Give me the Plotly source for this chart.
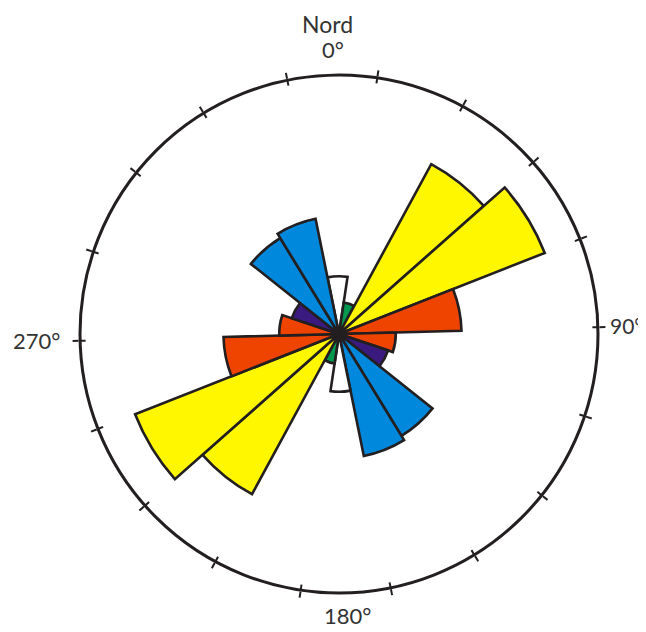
import plotly.graph_objects as go

# Rose diagram data: bin centres (degrees, 20° bins) and bar lengths
bin_centres = [0, 20, 40, 60, 80, 100, 120, 140, 160,
               180, 200, 220, 240, 260, 280, 300, 320, 340]
lengths = [5.8, 3.2, 19.4, 22.2, 12.3, 5.7, 5.2, 12.0, 12.5,
           5.8, 3.0, 18.3, 22.0, 11.6, 6.0, 5.0, 11.3, 11.8]
bin_width = 20
tick_angles = list(range(10, 360, 20))
direction_labels = ["0°", "90°", "180°", "270°"]
north_label = "Nord"

# styles
WHITE, GREEN, YELLOW, RED, PURPLE, BLUE = "#FFFFFF", "#00984E", "#FFF700", "#EE4400", "#3B1A80", "#0088DD"
bar_colors = [WHITE, GREEN, YELLOW, YELLOW, RED, RED, PURPLE, BLUE, BLUE] * 2
INK = "#231F20"

fig = go.Figure()
fig.add_trace(go.Barpolar(
    r=lengths, theta=bin_centres, width=[bin_width] * len(bin_centres),
    marker=dict(color=bar_colors, line=dict(color=INK, width=2.6)),
    opacity=1, hoverinfo="r+theta", subplot="polar"))
fig.add_trace(go.Barpolar(r=[0], theta=[0], subplot="polar2",
                          marker=dict(color="rgba(0,0,0,0)"), hoverinfo="skip"))

# the page body has an 8px margin, so work in page pixels minus 8
OFF = 8
W, H = 646 - OFF, 632 - OFF
cx, cy, R = 339 - OFF, 334 - OFF, 259
dom_x = [(cx - R) / W, (cx + R) / W]
dom_y = [(H - cy - R) / H, (H - cy + R) / H]
ROT = 91.5

common_radial = dict(visible=False, range=[0, 26])
fig.update_layout(
    width=W, height=H, margin=dict(l=0, r=0, t=0, b=0),
    paper_bgcolor="white", showlegend=False,
    polar=dict(
        domain=dict(x=dom_x, y=dom_y), bgcolor="rgba(0,0,0,0)",
        radialaxis=common_radial,
        angularaxis=dict(direction="clockwise", rotation=ROT,
                         showline=True, linecolor=INK, linewidth=3,
                         showgrid=False, tickmode="array", tickvals=tick_angles,
                         ticks="outside", ticklen=6, tickwidth=2.2, tickcolor=INK,
                         showticklabels=False),
    ),
    polar2=dict(
        domain=dict(x=dom_x, y=dom_y), bgcolor="rgba(0,0,0,0)",
        radialaxis=common_radial,
        angularaxis=dict(direction="clockwise", rotation=ROT,
                         showline=False, showgrid=False,
                         tickmode="array", tickvals=tick_angles,
                         ticks="inside", ticklen=5, tickwidth=2.2, tickcolor=INK,
                         showticklabels=False),
    ),
)

font = dict(family="Lato, 'DejaVu Sans', sans-serif", size=22, color="#333333")
ann = [
    dict(x=(328 - OFF) / W, y=1.0, text=north_label, xanchor="center",
         yanchor="top", font=dict(font, size=23)),
    dict(x=(333 - OFF) / W, y=1 - (50 - OFF) / H, text=direction_labels[0], xanchor="center", yanchor="middle"),
    dict(x=(645 - OFF) / W, y=1 - (325 - OFF) / H, text=direction_labels[1], xanchor="right",
         yanchor="middle", font=dict(font, size=21)),
    dict(x=(347 - OFF) / W, y=1 - (615 - OFF) / H, text=direction_labels[2], xanchor="center", yanchor="middle"),
    dict(x=(62 - OFF) / W, y=1 - (340 - OFF) / H, text=direction_labels[3], xanchor="right", yanchor="middle"),
]
for a in ann:
    a.setdefault("font", font)
    fig.add_annotation(xref="paper", yref="paper", showarrow=False, **a)

fig.write_html("out.html")
